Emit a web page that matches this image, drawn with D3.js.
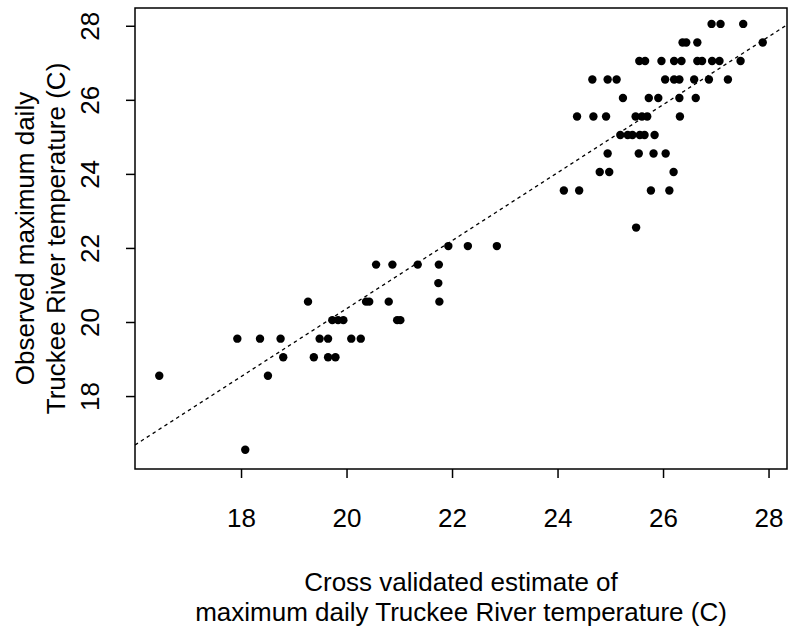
<!DOCTYPE html>
<html>
<head>
<meta charset="utf-8">
<script src="https://cdn.jsdelivr.net/npm/d3@7"></script>
<style>
  html, body { margin: 0; padding: 0; background: #ffffff; }
  svg { display: block; }
  text { font-family: "Liberation Sans", Arial, Helvetica, sans-serif; fill: #000; }
</style>
</head>
<body>
<script>
// Cross validated estimates (x) against observed maximum daily temperature (y), deg C
const estimate = [
  18.08,
  16.45, 18.51,
  18.80, 19.38, 19.65, 19.79,
  17.93, 18.36, 18.75, 19.49, 19.65, 20.09, 20.27,
  19.73, 19.84, 19.94, 20.96, 21.02,
  19.27, 20.37, 20.43, 20.80, 21.76,
  21.74,
  20.56, 20.87, 21.35, 21.75,
  21.93, 22.30, 22.85,
  25.49,
  24.12, 24.41, 25.77, 26.12,
  24.80, 24.98, 26.20,
  24.95, 25.54, 25.82, 26.05,
  25.19, 25.33, 25.42, 25.56, 25.65, 25.84,
  24.37, 24.68, 24.92, 25.48, 25.60, 25.70, 26.32,
  25.24, 25.73, 25.91, 26.31, 26.62,
  24.66, 24.95, 25.12, 26.04, 26.21, 26.31, 26.59, 26.87, 27.23,
  25.55, 25.66, 25.97, 26.21, 26.35, 26.65, 26.74, 26.93, 27.07, 27.47,
  26.37, 26.44, 26.65, 27.89,
  26.92, 27.09, 27.52
];
const observed = [
  16.55,
  18.55, 18.55,
  19.05, 19.05, 19.05, 19.05,
  19.55, 19.55, 19.55, 19.55, 19.55, 19.55, 19.55,
  20.05, 20.05, 20.05, 20.05, 20.05,
  20.55, 20.55, 20.55, 20.55, 20.55,
  21.05,
  21.55, 21.55, 21.55, 21.55,
  22.05, 22.05, 22.05,
  22.55,
  23.55, 23.55, 23.55, 23.55,
  24.05, 24.05, 24.05,
  24.55, 24.55, 24.55, 24.55,
  25.05, 25.05, 25.05, 25.05, 25.05, 25.05,
  25.55, 25.55, 25.55, 25.55, 25.55, 25.55, 25.55,
  26.05, 26.05, 26.05, 26.05, 26.05,
  26.55, 26.55, 26.55, 26.55, 26.55, 26.55, 26.55, 26.55, 26.55,
  27.05, 27.05, 27.05, 27.05, 27.05, 27.05, 27.05, 27.05, 27.05, 27.05,
  27.55, 27.55, 27.55, 27.55,
  28.05, 28.05, 28.05
];
const xTicks = [18, 20, 22, 24, 26, 28];
const yTicks = [18, 20, 22, 24, 26, 28];
// Fitted line: observed = intercept + slope * estimate
const fitIntercept = 2.0;
const fitSlope = 0.918;
const xDomain = [15.99, 28.35];
const yDomain = [16.03, 28.48];
const xTitleLines = ["Cross validated estimate of", "maximum daily Truckee River temperature (C)"];
const yTitleLines = ["Observed maximum daily", "Truckee River temperature (C)"];

const W = 788, H = 630;
const box = { left: 135, right: 787, top: 8, bottom: 469 };
const fontSize = 26;

const svg = d3.select("body").append("svg")
  .attr("width", W).attr("height", H);

const x = d3.scaleLinear().domain(xDomain).range([box.left, box.right]);
const y = d3.scaleLinear().domain(yDomain).range([box.bottom, box.top]);

// Clip region for the fitted line
svg.append("defs").append("clipPath").attr("id", "plotClip")
  .append("rect")
  .attr("x", box.left).attr("y", box.top)
  .attr("width", box.right - box.left).attr("height", box.bottom - box.top);

// Points
svg.append("g").selectAll("circle")
  .data(estimate.map((v, i) => [v, observed[i]]))
  .join("circle")
  .attr("cx", d => x(d[0]))
  .attr("cy", d => y(d[1]))
  .attr("r", 4.2)
  .attr("fill", "#000");

// Dashed fitted line across the plotting region
svg.append("line")
  .attr("clip-path", "url(#plotClip)")
  .attr("x1", x(xDomain[0])).attr("y1", y(fitIntercept + fitSlope * xDomain[0]))
  .attr("x2", x(xDomain[1])).attr("y2", y(fitIntercept + fitSlope * xDomain[1]))
  .attr("stroke", "#000")
  .attr("stroke-width", 1.3)
  .attr("stroke-dasharray", "3.5,3.5");

// Axes (ticks and labels only; the frame is drawn separately)
const xAxis = d3.axisBottom(x).tickValues(xTicks).tickSize(9).tickPadding(0).tickFormat(d3.format("d"));
const gx = svg.append("g").attr("transform", `translate(0,${box.bottom})`).call(xAxis);
gx.select(".domain").remove();
gx.selectAll(".tick line").attr("stroke", "#000").attr("stroke-width", 1.5);
gx.selectAll(".tick text")
  .attr("y", 58).attr("dy", null)
  .attr("font-size", fontSize)
  .attr("font-family", "Liberation Sans, Arial, sans-serif");

const yAxis = d3.axisLeft(y).tickValues(yTicks).tickSize(9).tickPadding(0).tickFormat(d3.format("d"));
const gy = svg.append("g").attr("transform", `translate(${box.left},0)`).call(yAxis);
gy.select(".domain").remove();
gy.selectAll(".tick line").attr("stroke", "#000").attr("stroke-width", 1.5);
gy.selectAll(".tick text")
  .attr("x", null).attr("dy", null)
  .attr("text-anchor", "middle")
  .attr("transform", "translate(-36,0) rotate(-90)")
  .attr("font-size", fontSize)
  .attr("font-family", "Liberation Sans, Arial, sans-serif");

// Frame
svg.append("rect")
  .attr("x", box.left).attr("y", box.top)
  .attr("width", box.right - box.left).attr("height", box.bottom - box.top)
  .attr("fill", "none").attr("stroke", "#000").attr("stroke-width", 1.5);

// Axis titles
const cx = (box.left + box.right) / 2;
const cy = (box.top + box.bottom) / 2;
svg.append("g").selectAll("text")
  .data(xTitleLines)
  .join("text")
  .attr("x", cx)
  .attr("y", (d, i) => 591 + i * 30)
  .attr("text-anchor", "middle")
  .attr("font-size", fontSize)
  .text(d => d);

svg.append("g").selectAll("text")
  .data(yTitleLines)
  .join("text")
  .attr("transform", (d, i) => `translate(${34 + i * 31},${cy}) rotate(-90)`)
  .attr("text-anchor", "middle")
  .attr("font-size", fontSize)
  .text(d => d);
</script>
</body>
</html>
